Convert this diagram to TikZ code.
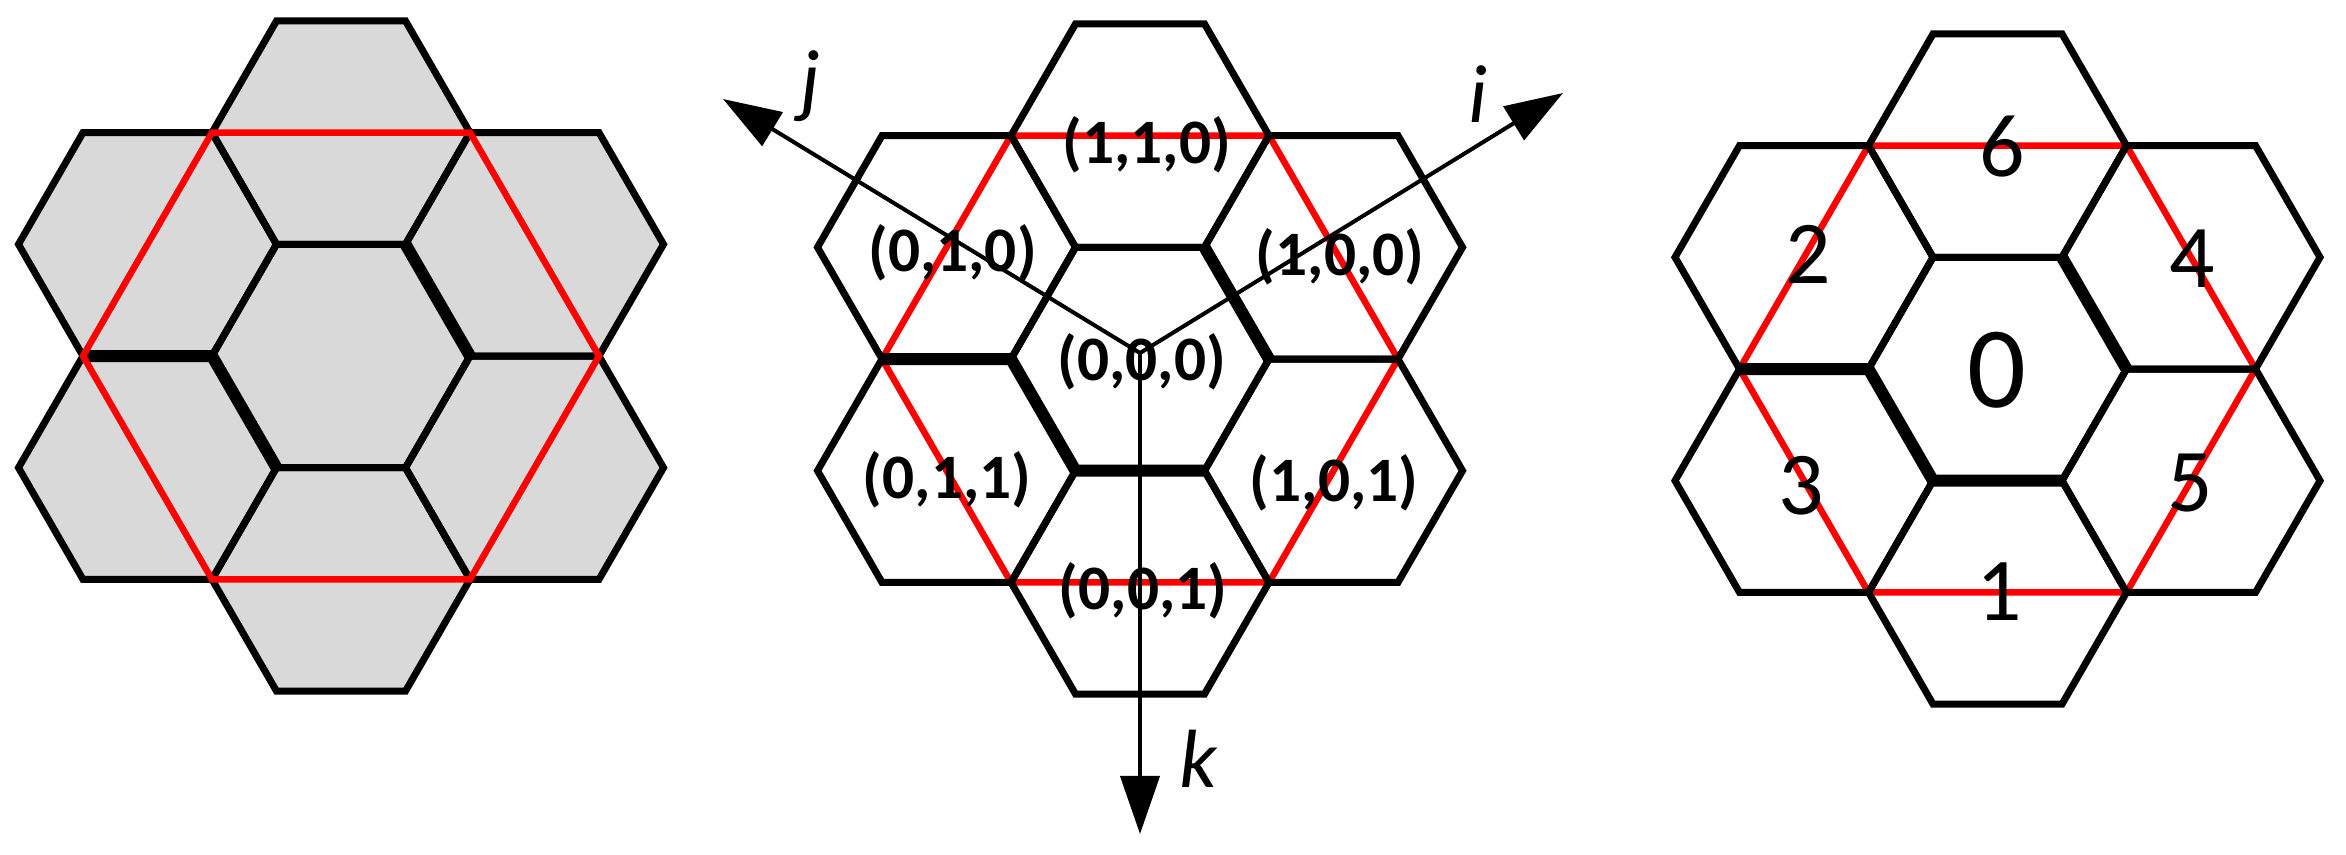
\documentclass[tikz,border=0pt]{standalone}
\usepackage{fontspec}
\setmainfont{Carlito}
\usetikzlibrary{arrows.meta}
\definecolor{hexgray}{RGB}{217,217,217}
\definecolor{hexred}{RGB}{255,0,0}
\begin{document}
\begin{tikzpicture}[x=0.01cm,y=-0.01cm,
  hexline/.style={line width=0.07cm, black, line join=miter},
  thickedge/.style={line width=0.12cm, black, line join=miter},
  redhex/.style={line width=0.065cm, hexred, line join=miter},
  axis/.style={line width=0.04cm, black, -{Triangle[length=0.58cm,width=0.39cm]}},
  coordlabel/.style={font=\fontsize{18}{20}\selectfont\bfseries, inner sep=0pt},
  numlabel/.style={font=\fontsize{25.5}{28}\selectfont, inner sep=0pt},
  biglabel/.style={font=\fontsize{33}{36}\selectfont, inner sep=0pt},
  axislabel/.style={font=\fontsize{23.5}{26}\selectfont\itshape, inner sep=0pt}]
\useasboundingbox (0,0) rectangle (2346,854);

% ---------- left cluster ----------
\begin{scope}[shift={(341,356)}]
  \foreach \dx/\dy in {0/0, 0/-223.4, 0/223.4, -193.5/-111.7, -193.5/111.7, 193.5/-111.7, 193.5/111.7}
    \fill[hexgray] (\dx+129,\dy) -- (\dx+64.5,\dy+111.7) -- (\dx-64.5,\dy+111.7) -- (\dx-129,\dy) -- (\dx-64.5,\dy-111.7) -- (\dx+64.5,\dy-111.7) -- cycle;
  \foreach \dx/\dy in {0/0, 0/-223.4, 0/223.4, -193.5/-111.7, -193.5/111.7, 193.5/-111.7, 193.5/111.7}
    \draw[hexline] (\dx+129,\dy) -- (\dx+64.5,\dy+111.7) -- (\dx-64.5,\dy+111.7) -- (\dx-129,\dy) -- (\dx-64.5,\dy-111.7) -- (\dx+64.5,\dy-111.7) -- cycle;
  \draw[thickedge] (-258,0) -- (-129,0) -- (-64.5,111.7);
  \draw[thickedge] (64.5,-111.7) -- (129,0);
  \draw[redhex] (-129,-223.4) -- (129,-223.4) -- (258,0) -- (129,223.4) -- (-129,223.4) -- (-258,0) -- cycle;
\end{scope}

% ---------- middle cluster ----------
\begin{scope}[shift={(1140,359)}]
  \draw[redhex] (-129,-223.4) -- (129,-223.4) -- (258,0) -- (129,223.4) -- (-129,223.4) -- (-258,0) -- cycle;
  \foreach \dx/\dy in {0/0, 0/-223.4, 0/223.4, -193.5/-111.7, -193.5/111.7, 193.5/-111.7, 193.5/111.7}
    \draw[hexline] (\dx+129,\dy) -- (\dx+64.5,\dy+111.7) -- (\dx-64.5,\dy+111.7) -- (\dx-129,\dy) -- (\dx-64.5,\dy-111.7) -- (\dx+64.5,\dy-111.7) -- cycle;
  \draw[thickedge] (-258,0) -- (-129,0) -- (-64.5,111.7) -- (64.5,111.7);
  \draw[thickedge] (64.5,-111.7) -- (129,0);
\end{scope}

\coordinate (o) at (1140,353);
\coordinate (jtip) at (723,99);
\coordinate (itip) at (1563,93);
\coordinate (ktip) at (1140,834);
\draw[axis] (o) -- (jtip);
\draw[axis] (o) -- (itip);
\draw[axis] (o) -- (ktip);

\node[coordlabel] (l110) at (1146.7,145) {(1,1,0)};
\node[coordlabel] (l010) at (952.5,253) {(0,1,0)};
\node[coordlabel] (l100) at (1340,257) {(1,0,0)};
\node[coordlabel] (l000) at (1141.7,362) {(0,0,0)};
\node[coordlabel] (l011) at (947,480) {(0,1,1)};
\node[coordlabel] (l101) at (1334,483) {(1,0,1)};
\node[coordlabel] (l001) at (1143,591) {(0,0,1)};

\node[axislabel] (lj) at (810,86) {j};
\node[axislabel] (li) at (1478,94) {i};
\node[axislabel] (lk) at (1198,759) {k};

% ---------- right cluster ----------
\begin{scope}[shift={(1997.5,369)}]
  \draw[redhex] (-129,-223.4) -- (129,-223.4) -- (258,0) -- (129,223.4) -- (-129,223.4) -- (-258,0) -- cycle;
  \foreach \dx/\dy in {0/0, 0/-223.4, 0/223.4, -193.5/-111.7, -193.5/111.7, 193.5/-111.7, 193.5/111.7}
    \draw[hexline] (\dx+129,\dy) -- (\dx+64.5,\dy+111.7) -- (\dx-64.5,\dy+111.7) -- (\dx-129,\dy) -- (\dx-64.5,\dy-111.7) -- (\dx+64.5,\dy-111.7) -- cycle;
  \draw[thickedge] (-258,0) -- (-129,0) -- (-64.5,111.7) -- (64.5,111.7);
  \draw[thickedge] (64.5,-111.7) -- (129,0);
\end{scope}

\node[numlabel] (n6) at (2001.7,146.7) {6};
\node[numlabel] (n2) at (1808,254) {2};
\node[biglabel] (n0) at (1996.7,370) {0};
\node[numlabel] (n4) at (2192,259) {4};
\node[numlabel] (n3) at (1801,486) {3};
\node[numlabel] (n5) at (2190,483) {5};
\node[numlabel] (n1) at (1999,591.5) {1};
\end{tikzpicture}
\end{document}
